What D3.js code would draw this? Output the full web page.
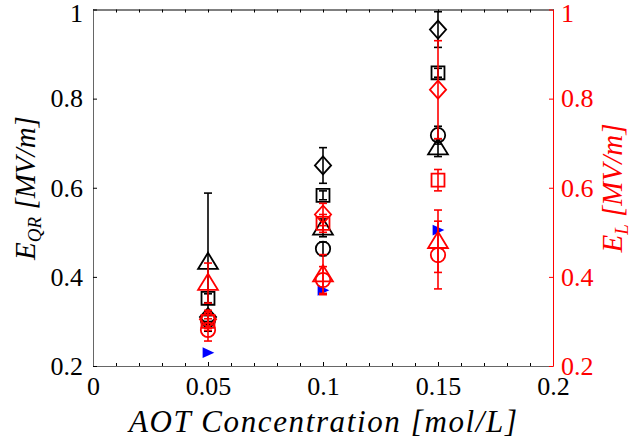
<!DOCTYPE html>
<html>
<head>
<meta charset="utf-8">
<script src="https://cdn.jsdelivr.net/npm/d3@7"></script>
<style>
  body { margin: 0; background: #fff; }
  svg text { font-family: "Liberation Serif", "Times New Roman", "DejaVu Serif", serif !important; }
</style>
</head>
<body>
<div class="visHolder"></div>
<script>
// concentrations (mol/L)
let conc = [0.05, 0.1, 0.15];

// E_QR (left axis, black)
let qrDiamond = [0.31, 0.65, 0.955];
let qrDiamondErr = [0.01, 0.04, 0.04];
let qrSquare = [0.352, 0.583, 0.858];
let qrSquareErr = [0.01, 0.01, 0.01];
let qrCircle = [0.303, 0.463, 0.718];
let qrCircleErr = [0.01, 0.015, 0.02];
let qrTriangle = [0.433, 0.51, 0.69];
let qrTriangleErr = [0.155, 0.02, 0.02];

// E_L (right axis, red)
let lDiamond = [0.305, 0.54, 0.82];
let lDiamondErr = [0.02, 0.025, 0.11];
let lSquare = [0.30, 0.52, 0.617];
let lSquareErr = [0.02, 0.02, 0.024];
let lCircle = [0.281, 0.393, 0.449];
let lCircleErr = [0.025, 0.03, 0.076];
let lTriangle = [0.386, 0.405, 0.48];
let lTriangleErr = [0.045, 0.045, 0.07];

// blue filled markers
let blueVals = [0.23, 0.37, 0.505];

let xTicks = [0, 0.05, 0.1, 0.15, 0.2];
let xTickLabels = ['0', '0.05', '0.1', '0.15', '0.2'];
let yTicks = [0.2, 0.4, 0.6, 0.8, 1];
let yTickLabels = ['0.2', '0.4', '0.6', '0.8', '1'];

let width = 632;
let height = 444;
let mLeft = 93, mRight = 553, mTop = 9.5, mBottom = 366;

let svg = d3.select('.visHolder').append('svg')
  .attr('width', width)
  .attr('height', height);

let xScale = d3.scaleLinear().domain([0, 0.2]).range([mLeft, mRight]);
let yScale = d3.scaleLinear().domain([0.2, 1]).range([mBottom, mTop]);
let yRScale = d3.scaleLinear().domain([0.2, 1]).range([mBottom, mTop]);

function shapePath(shape, s) {
  if (shape === 'diamond') return `M0,${-s}L${s * 0.9},0L0,${s}L${-s * 0.9},0Z`;
  if (shape === 'square') return `M${-s * 0.72},${-s * 0.72}H${s * 0.72}V${s * 0.72}H${-s * 0.72}Z`;
  if (shape === 'circle') return `M${s * 0.8},0A${s * 0.8},${s * 0.8} 0 1,1 ${-s * 0.8},0A${s * 0.8},${s * 0.8} 0 1,1 ${s * 0.8},0Z`;
  if (shape === 'triangle') return `M0,${-s * 1.05}L${s * 1.1},${s * 0.75}L${-s * 1.1},${s * 0.75}Z`;
  if (shape === 'right') return `M${-s * 0.6},${-s * 0.6}L${s * 0.7},0L${-s * 0.6},${s * 0.6}Z`;
}

let series = [
  { vals: qrDiamond, errs: qrDiamondErr, shape: 'diamond', color: '#000', scale: yScale, size: 9 },
  { vals: qrSquare, errs: qrSquareErr, shape: 'square', color: '#000', scale: yScale, size: 9 },
  { vals: qrCircle, errs: qrCircleErr, shape: 'circle', color: '#000', scale: yScale, size: 9 },
  { vals: qrTriangle, errs: qrTriangleErr, shape: 'triangle', color: '#000', scale: yScale, size: 9 },
  { vals: blueVals, errs: null, shape: 'right', color: '#0000ff', scale: yScale, size: 9, fill: true },
  { vals: lDiamond, errs: lDiamondErr, shape: 'diamond', color: '#ff0000', scale: yRScale, size: 9 },
  { vals: lSquare, errs: lSquareErr, shape: 'square', color: '#ff0000', scale: yRScale, size: 9 },
  { vals: lCircle, errs: lCircleErr, shape: 'circle', color: '#ff0000', scale: yRScale, size: 9 },
  { vals: lTriangle, errs: lTriangleErr, shape: 'triangle', color: '#ff0000', scale: yRScale, size: 9 }
];

function styleAxis(g, color) {
  g.attr('font-size', 26);
  g.selectAll('text').attr('fill', color);
}

function drawAxes() {
  // minor x ticks (bottom and top)
  let minor = d3.range(1, 20).map(i => i / 100).filter(v => Math.round(v * 100) % 5 !== 0);

  let xAxis = d3.axisBottom(xScale).tickValues(xTicks)
    .tickFormat((d, i) => xTickLabels[i]).tickSizeInner(-4).tickSizeOuter(0).tickPadding(11);
  let gx = svg.append('g').attr('transform', 'translate(0,' + mBottom + ')').call(xAxis);
  gx.select('.domain').attr('stroke', '#666');
  styleAxis(gx, '#000');

  svg.append('g').attr('transform', 'translate(0,' + mBottom + ')')
    .call(d3.axisBottom(xScale).tickValues(minor).tickFormat('').tickSizeInner(-3).tickSizeOuter(0))
    .call(g => g.select('.domain').remove());

  let gTop = svg.append('g').attr('transform', 'translate(0,' + mTop + ')')
    .call(d3.axisTop(xScale).tickValues(xTicks.concat(minor)).tickFormat('').tickSizeInner(-3).tickSizeOuter(0));
  gTop.select('.domain').attr('stroke', '#000');

  let yAxis = d3.axisLeft(yScale).tickValues(yTicks)
    .tickFormat((d, i) => yTickLabels[i]).tickSizeInner(-4).tickSizeOuter(0).tickPadding(10);
  let gy = svg.append('g').attr('transform', 'translate(' + mLeft + ',0)').call(yAxis);
  gy.select('.domain').attr('stroke', '#666');
  styleAxis(gy, '#000');

  let yRAxis = d3.axisRight(yRScale).tickValues(yTicks)
    .tickFormat((d, i) => yTickLabels[i]).tickSizeInner(-4).tickSizeOuter(0).tickPadding(8);
  let gyR = svg.append('g').attr('transform', 'translate(' + mRight + ',0)').call(yRAxis);
  gyR.select('.domain').attr('stroke', '#ff0000');
  gyR.selectAll('.tick line').attr('stroke', '#ff0000');
  styleAxis(gyR, '#ff0000');

  // keep the top "1" labels inside the page
  gy.selectAll('.tick text').filter(d => d === 1).attr('dy', '0.45em');
  gyR.selectAll('.tick text').filter(d => d === 1).attr('dy', '0.45em');
}

function drawLabels() {
  svg.append('text')
    .attr('x', 323).attr('y', 432)
    .attr('text-anchor', 'middle')
    .attr('font-size', 31).attr('font-style', 'italic')
    .attr('textLength', 388).attr('lengthAdjust', 'spacing')
    .text('AOT Concentration [mol/L]');

  let ly = svg.append('text')
    .attr('transform', 'translate(35,188) rotate(-90)')
    .attr('text-anchor', 'middle')
    .attr('font-size', 29).attr('font-style', 'italic');
  ly.append('tspan').text('E');
  ly.append('tspan').attr('font-size', 19).attr('dy', 6).text('QR');
  ly.append('tspan').attr('dy', -6).text(' [MV/m]');

  let ry = svg.append('text')
    .attr('transform', 'translate(622,188) rotate(-90)')
    .attr('text-anchor', 'middle')
    .attr('font-size', 29).attr('font-style', 'italic').attr('fill', '#ff0000');
  ry.append('tspan').text('E');
  ry.append('tspan').attr('font-size', 19).attr('dy', 6).text('L');
  ry.append('tspan').attr('dy', -6).text(' [MV/m]');
}

function drawMarks() {
  series.forEach(s => {
    let g = svg.append('g');
    if (s.errs) {
      conc.forEach((c, i) => {
        let cx = xScale(c);
        let y1 = s.scale(s.vals[i] - s.errs[i]);
        let y2 = s.scale(s.vals[i] + s.errs[i]);
        g.append('line').attr('x1', cx).attr('x2', cx).attr('y1', y1).attr('y2', y2)
          .attr('stroke', s.color).attr('stroke-width', 1.6);
        [y1, y2].forEach(yy => {
          g.append('line').attr('x1', cx - 4).attr('x2', cx + 4).attr('y1', yy).attr('y2', yy)
            .attr('stroke', s.color).attr('stroke-width', 1.6);
        });
      });
    }
    g.selectAll('path').data(s.vals).join('path')
      .attr('transform', (d, i) => 'translate(' + xScale(conc[i]) + ',' + s.scale(d) + ')')
      .attr('d', shapePath(s.shape, s.size))
      .attr('fill', s.fill ? s.color : 'none')
      .attr('stroke', s.fill ? 'none' : s.color)
      .attr('stroke-width', 1.8);
  });
}

drawAxes();
drawMarks();
drawLabels();
</script>
</body>
</html>
